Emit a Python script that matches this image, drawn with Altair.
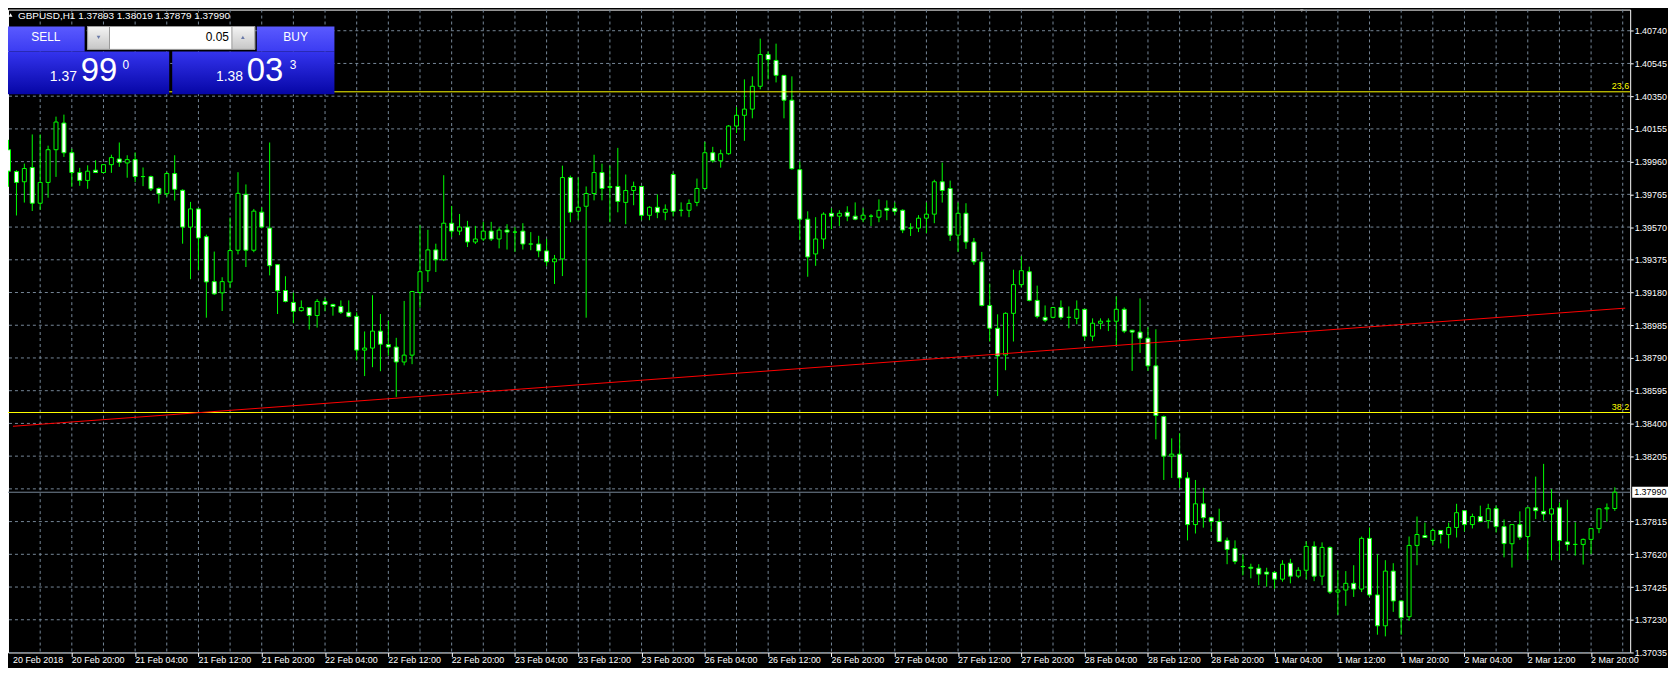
import altair as alt
import pandas as pd

# ---------------- data (GBPUSD H1) ----------------
opens = [
    1.40031, 1.39901, 1.39840, 1.39925, 1.39712, 1.39836, 1.40031, 1.40190, 1.40013, 1.39895,
    1.39848, 1.39909, 1.39895, 1.39942, 1.39976, 1.39952, 1.39972, 1.39871, 1.39871, 1.39800,
    1.39769, 1.39889, 1.39789, 1.39570, 1.39678, 1.39513, 1.39245, 1.39178, 1.39243, 1.39432,
    1.39765, 1.39432, 1.39659, 1.39564, 1.39346, 1.39192, 1.39121, 1.39072, 1.39090, 1.39043,
    1.39127, 1.39109, 1.39097, 1.39062, 1.39038, 1.38837, 1.38849, 1.38950, 1.38870, 1.38855,
    1.38766, 1.38807, 1.39180, 1.39310, 1.39434, 1.39375, 1.39593, 1.39546, 1.39570, 1.39481,
    1.39499, 1.39546, 1.39499, 1.39552, 1.39540, 1.39546, 1.39469, 1.39469, 1.39428, 1.39363,
    1.39380, 1.39865, 1.39664, 1.39694, 1.39770, 1.39895, 1.39812, 1.39812, 1.39717, 1.39788,
    1.39812, 1.39640, 1.39688, 1.39658, 1.39883, 1.39670, 1.39670, 1.39717, 1.39800, 1.40013,
    1.39965, 1.40007, 1.40172, 1.40236, 1.40273, 1.40409, 1.40598, 1.40563, 1.40474, 1.40326,
    1.39912, 1.39617, 1.39410, 1.39499, 1.39652, 1.39635, 1.39658, 1.39635, 1.39617, 1.39635,
    1.39629, 1.39682, 1.39682, 1.39670, 1.39564, 1.39564, 1.39623, 1.39647, 1.39840, 1.39800,
    1.39522, 1.39652, 1.39481, 1.39363, 1.39103, 1.38967, 1.38808, 1.39056, 1.39227, 1.39304,
    1.39133, 1.39032, 1.39032, 1.39091, 1.39032, 1.39026, 1.39080, 1.38920, 1.38997, 1.39009,
    1.39009, 1.39080, 1.38955, 1.38944, 1.38908, 1.38743, 1.38441, 1.38205, 1.38217, 1.38075,
    1.37797, 1.37921, 1.37838, 1.37815, 1.37703, 1.37655, 1.37547, 1.37543, 1.37537, 1.37514,
    1.37512, 1.37472, 1.37567, 1.37490, 1.37525, 1.37667, 1.37490, 1.37661, 1.37395, 1.37407,
    1.37447, 1.37413, 1.37715, 1.37378, 1.37194, 1.37520, 1.37342, 1.37248, 1.37673, 1.37732,
    1.37703, 1.37762, 1.37738, 1.37780, 1.37880, 1.37797, 1.37845, 1.37821, 1.37892, 1.37785,
    1.37683, 1.37797, 1.37726, 1.37897, 1.37876, 1.37860, 1.37897, 1.37694, 1.37679, 1.37679,
    1.37709, 1.37773, 1.37891, 1.37893,
]
highs = [
    1.40090, 1.39909, 1.39948, 1.40122, 1.40122, 1.40055, 1.40228, 1.40240, 1.40037, 1.39923,
    1.39938, 1.39968, 1.39944, 1.40001, 1.40074, 1.39998, 1.40015, 1.39925, 1.39877, 1.39806,
    1.39899, 1.39998, 1.39795, 1.39720, 1.39680, 1.39525, 1.39424, 1.39271, 1.39627, 1.39897,
    1.39824, 1.39678, 1.39688, 1.40074, 1.39346, 1.39277, 1.39180, 1.39133, 1.39090, 1.39141,
    1.39149, 1.39113, 1.39133, 1.39133, 1.39062, 1.38948, 1.39164, 1.39052, 1.39011, 1.38910,
    1.39130, 1.39190, 1.39581, 1.39554, 1.39471, 1.39879, 1.39696, 1.39648, 1.39607, 1.39577,
    1.39601, 1.39601, 1.39568, 1.39587, 1.39570, 1.39593, 1.39540, 1.39518, 1.39499, 1.39404,
    1.39936, 1.39877, 1.39865, 1.39812, 1.40001, 1.39948, 1.39936, 1.40042, 1.39883, 1.39841,
    1.39815, 1.39694, 1.39765, 1.39705, 1.39895, 1.39717, 1.39735, 1.39859, 1.40078, 1.40048,
    1.40031, 1.40178, 1.40285, 1.40450, 1.40468, 1.40693, 1.40616, 1.40663, 1.40474, 1.40468,
    1.39960, 1.39664, 1.39629, 1.39658, 1.39682, 1.39670, 1.39694, 1.39717, 1.39682, 1.39647,
    1.39735, 1.39729, 1.39717, 1.39676, 1.39593, 1.39641, 1.39717, 1.39852, 1.39954, 1.39847,
    1.39717, 1.39712, 1.39505, 1.39422, 1.39233, 1.39050, 1.39062, 1.39316, 1.39397, 1.39334,
    1.39221, 1.39103, 1.39091, 1.39133, 1.39097, 1.39133, 1.39082, 1.39026, 1.39026, 1.39026,
    1.39156, 1.39091, 1.38958, 1.39145, 1.38973, 1.38961, 1.38447, 1.38311, 1.38341, 1.38110,
    1.38063, 1.38016, 1.37844, 1.37892, 1.37720, 1.37703, 1.37620, 1.37564, 1.37561, 1.37540,
    1.37520, 1.37585, 1.37593, 1.37543, 1.37697, 1.37697, 1.37691, 1.37667, 1.37525, 1.37520,
    1.37555, 1.37726, 1.37780, 1.37620, 1.37585, 1.37567, 1.37345, 1.37726, 1.37845, 1.37809,
    1.37774, 1.37765, 1.37809, 1.37921, 1.37882, 1.37862, 1.37910, 1.37921, 1.37910, 1.37828,
    1.37797, 1.37876, 1.37897, 1.38083, 1.38159, 1.38008, 1.37929, 1.37945, 1.37811, 1.37714,
    1.37773, 1.37891, 1.37923, 1.38019,
]
lows = [
    1.39810, 1.39639, 1.39716, 1.39666, 1.39672, 1.39745, 1.39869, 1.39988, 1.39810, 1.39816,
    1.39798, 1.39893, 1.39893, 1.39893, 1.39929, 1.39864, 1.39838, 1.39814, 1.39785, 1.39710,
    1.39751, 1.39728, 1.39471, 1.39259, 1.39312, 1.39030, 1.39166, 1.39070, 1.39206, 1.39407,
    1.39332, 1.39420, 1.39562, 1.39282, 1.39052, 1.39121, 1.38997, 1.39066, 1.38959, 1.38971,
    1.39068, 1.39042, 1.39052, 1.39032, 1.38776, 1.38682, 1.38735, 1.38711, 1.38804, 1.38558,
    1.38746, 1.38753, 1.39089, 1.39243, 1.39302, 1.39367, 1.39510, 1.39522, 1.39451, 1.39469,
    1.39487, 1.39487, 1.39443, 1.39436, 1.39422, 1.39436, 1.39432, 1.39390, 1.39337, 1.39231,
    1.39278, 1.39599, 1.39611, 1.39030, 1.39729, 1.39729, 1.39599, 1.39658, 1.39587, 1.39700,
    1.39611, 1.39611, 1.39623, 1.39611, 1.39633, 1.39633, 1.39629, 1.39694, 1.39794, 1.39954,
    1.39924, 1.40001, 1.40131, 1.40084, 1.40218, 1.40391, 1.40450, 1.40432, 1.40218, 1.39912,
    1.39493, 1.39274, 1.39339, 1.39440, 1.39558, 1.39576, 1.39605, 1.39611, 1.39599, 1.39576,
    1.39599, 1.39611, 1.39641, 1.39534, 1.39517, 1.39540, 1.39534, 1.39593, 1.39716, 1.39487,
    1.39422, 1.39440, 1.39345, 1.39097, 1.38888, 1.38563, 1.38717, 1.38888, 1.39210, 1.39127,
    1.39026, 1.39003, 1.39026, 1.39018, 1.38967, 1.38991, 1.38894, 1.38890, 1.38961, 1.38950,
    1.38867, 1.38938, 1.38713, 1.38820, 1.38713, 1.38305, 1.38063, 1.38075, 1.38016, 1.37703,
    1.37744, 1.37779, 1.37756, 1.37697, 1.37561, 1.37561, 1.37495, 1.37477, 1.37436, 1.37427,
    1.37415, 1.37457, 1.37447, 1.37478, 1.37471, 1.37460, 1.37436, 1.37384, 1.37259, 1.37313,
    1.37366, 1.37395, 1.37366, 1.37141, 1.37131, 1.37277, 1.37141, 1.37224, 1.37555, 1.37718,
    1.37673, 1.37685, 1.37655, 1.37720, 1.37756, 1.37774, 1.37812, 1.37774, 1.37750, 1.37602,
    1.37541, 1.37706, 1.37588, 1.37830, 1.37821, 1.37584, 1.37588, 1.37641, 1.37612, 1.37559,
    1.37620, 1.37746, 1.37815, 1.37879,
]
closes = [
    1.39903, 1.39836, 1.39919, 1.39712, 1.39836, 1.40031, 1.40196, 1.40013, 1.39895, 1.39848,
    1.39903, 1.39895, 1.39942, 1.39984, 1.39956, 1.39972, 1.39871, 1.39871, 1.39798, 1.39769,
    1.39889, 1.39795, 1.39570, 1.39678, 1.39505, 1.39243, 1.39172, 1.39245, 1.39430, 1.39771,
    1.39432, 1.39665, 1.39570, 1.39340, 1.39190, 1.39127, 1.39068, 1.39090, 1.39043, 1.39127,
    1.39109, 1.39097, 1.39062, 1.39038, 1.38837, 1.38849, 1.38950, 1.38872, 1.38855, 1.38766,
    1.38807, 1.39186, 1.39304, 1.39434, 1.39375, 1.39593, 1.39546, 1.39570, 1.39481, 1.39499,
    1.39546, 1.39499, 1.39552, 1.39540, 1.39540, 1.39469, 1.39469, 1.39428, 1.39363, 1.39380,
    1.39865, 1.39658, 1.39688, 1.39770, 1.39895, 1.39800, 1.39806, 1.39723, 1.39788, 1.39812,
    1.39640, 1.39688, 1.39658, 1.39676, 1.39664, 1.39670, 1.39711, 1.39800, 1.40013, 1.39965,
    1.40007, 1.40172, 1.40236, 1.40273, 1.40409, 1.40598, 1.40568, 1.40474, 1.40326, 1.39918,
    1.39617, 1.39392, 1.39499, 1.39647, 1.39635, 1.39652, 1.39635, 1.39617, 1.39641, 1.39635,
    1.39670, 1.39670, 1.39664, 1.39552, 1.39564, 1.39623, 1.39647, 1.39840, 1.39788, 1.39522,
    1.39652, 1.39481, 1.39363, 1.39103, 1.38967, 1.38802, 1.39056, 1.39227, 1.39310, 1.39133,
    1.39038, 1.39015, 1.39091, 1.39032, 1.39032, 1.39080, 1.38920, 1.38997, 1.39009, 1.39009,
    1.39080, 1.38950, 1.38944, 1.38908, 1.38743, 1.38447, 1.38205, 1.38217, 1.38075, 1.37797,
    1.37921, 1.37838, 1.37815, 1.37697, 1.37649, 1.37578, 1.37547, 1.37537, 1.37502, 1.37502,
    1.37472, 1.37561, 1.37490, 1.37525, 1.37667, 1.37490, 1.37661, 1.37395, 1.37407, 1.37447,
    1.37413, 1.37715, 1.37378, 1.37194, 1.37520, 1.37342, 1.37242, 1.37673, 1.37738, 1.37720,
    1.37762, 1.37738, 1.37780, 1.37868, 1.37797, 1.37845, 1.37815, 1.37892, 1.37785, 1.37684,
    1.37797, 1.37722, 1.37897, 1.37880, 1.37860, 1.37891, 1.37702, 1.37679, 1.37679, 1.37709,
    1.37773, 1.37891, 1.37897, 1.37990,
]

tick_labels = [
    "20 Feb 2018", "20 Feb 20:00", "21 Feb 04:00", "21 Feb 12:00", "21 Feb 20:00",
    "22 Feb 04:00", "22 Feb 12:00", "22 Feb 20:00", "23 Feb 04:00", "23 Feb 12:00",
    "23 Feb 20:00", "26 Feb 04:00", "26 Feb 12:00", "26 Feb 20:00", "27 Feb 04:00",
    "27 Feb 12:00", "27 Feb 20:00", "28 Feb 04:00", "28 Feb 12:00", "28 Feb 20:00",
    "1 Mar 04:00", "1 Mar 12:00", "1 Mar 20:00", "2 Mar 04:00", "2 Mar 12:00", "2 Mar 20:00",
]
price_levels = [
    1.40740, 1.40545, 1.40350, 1.40155, 1.39960, 1.39765, 1.39570, 1.39375, 1.39180, 1.38985,
    1.38790, 1.38595, 1.38400, 1.38205, 1.38010, 1.37815, 1.37620, 1.37425, 1.37230, 1.37035,
]
hidden_label = 1.38010
fib_levels = [1.40376, 1.38465]
fib_names = ["23.6", "38.2"]
trend_idx = [0.5625, 204.3125]
trend_price = [1.38383, 1.39087]
bid = 1.37990
bid_text = "1.37990"
title_text = "GBPUSD,H1  1.37893 1.38019 1.37879 1.37990"

# ---------------- layout ----------------
W, H = 1630, 646
X0, X1 = 0.5625, 204.3125
Y0, Y1 = 1.37035, 1.40866
FONT = "Liberation Sans"
FS = 9
GREEN = "#00FF00"
GRID = "#778899"

xs = alt.Scale(domain=[X0, X1], nice=False, zero=False)
ys = alt.Scale(domain=[Y0, Y1], nice=False, zero=False)

axis_vals = [p for p in price_levels if p != hidden_label]
YAX = alt.Axis(orient="right", values=axis_vals, format=".5f", title=None, grid=False,
               domain=False, ticks=True, tickColor="white", tickSize=3,
               labelColor="white", labelFont=FONT, labelFontSize=FS, labelPadding=1,
               labelOverlap=False, labelFlush=False)
XAX = alt.Axis(values=[8 * k for k in range(1, 26)], labels=False, ticks=True, tickSize=4,
               tickColor="white", domain=False, grid=False, title=None)

n = len(opens)
df = pd.DataFrame({"i": list(range(n)), "open": opens, "high": highs,
                   "low": lows, "close": closes})
df["top"] = df[["open", "close"]].max(axis=1)
df["bot"] = df[["open", "close"]].min(axis=1)
df["fillc"] = ["#FFFFFF" if c < o else "#000000" for o, c in zip(opens, closes)]

vgrid = pd.DataFrame({"g": list(range(4, 205, 4))})
hgrid = pd.DataFrame({"p": price_levels})
labels_df = pd.DataFrame({"i": [8 * k for k in range(len(tick_labels))], "label": tick_labels})
fib_df = pd.DataFrame({"p": fib_levels, "name": fib_names})
trend_df = pd.DataFrame({"t": trend_idx, "p": trend_price})
bid_df = pd.DataFrame({"p": [bid], "txt": [bid_text]})
dummy = alt.Data(values=[{"a": 1}])


def X(field):
    return alt.X(field, scale=xs, axis=XAX)


def Y(field):
    return alt.Y(field, scale=ys, axis=YAX)


vgrid_layer = alt.Chart(vgrid).mark_rule(color=GRID, strokeDash=[3, 3], strokeWidth=1).encode(
    x=X("g:Q"))

hgrid_layer = alt.Chart(hgrid).mark_rule(color=GRID, strokeDash=[3, 3], strokeWidth=1).encode(
    y=Y("p:Q"))

bid_line = alt.Chart(bid_df).mark_rule(color=GRID, strokeWidth=1).encode(y=Y("p:Q"))

wicks = alt.Chart(df).mark_rule(color=GREEN, strokeWidth=1, clip=True).encode(
    x=X("i:Q"), y=Y("low:Q"), y2="high:Q")

bodies = alt.Chart(df).mark_bar(size=4, stroke=GREEN, strokeWidth=1, clip=True).encode(
    x=X("i:Q"), y=Y("top:Q"), y2="bot:Q", fill=alt.Fill("fillc:N", scale=None))

fib_lines = alt.Chart(fib_df).mark_rule(color="#FFFF00", strokeWidth=1).encode(y=Y("p:Q"))
fib_text = alt.Chart(fib_df).mark_text(
    align="right", baseline="bottom", dy=-1, color="#FFFF00", font=FONT, fontSize=FS).encode(
    x=alt.value(W - 1), y=Y("p:Q"), text="name:N")

trend = alt.Chart(trend_df).mark_line(color="#FF0000", strokeWidth=1, clip=True).encode(
    x=X("t:Q"), y=Y("p:Q"))

bid_box = alt.Chart(bid_df).transform_calculate(
    p1="datum.p + 0.000325", p2="datum.p - 0.000325").mark_rect(fill="white").encode(
    x=alt.value(W + 2), x2=alt.value(W + 40), y=Y("p1:Q"), y2="p2:Q")
bid_lab = alt.Chart(bid_df).mark_text(
    align="left", baseline="middle", color="black", font=FONT, fontSize=FS).encode(
    x=alt.value(W + 4), y=Y("p:Q"), text="txt:N")

x_labels = alt.Chart(labels_df).transform_calculate(
    xl=f"max(datum.i, {X0})").mark_text(
    align="left", baseline="alphabetic", color="white", font=FONT, fontSize=FS).encode(
    x=X("xl:Q"), y=alt.value(H + 11), text="label:N")


def box(x1, x2, y1, y2, fill, stroke=None):
    kw = {"fill": fill}
    if stroke:
        kw.update(stroke=stroke, strokeWidth=1)
    return alt.Chart(dummy).mark_rect(**kw).encode(
        x=alt.value(x1), x2=alt.value(x2), y=alt.value(y1), y2=alt.value(y2))


def txt(x, y, s, size, color="white", align="left", baseline="alphabetic"):
    return alt.Chart(dummy).mark_text(
        text=s, font=FONT, fontSize=size, color=color, align=align, baseline=baseline).encode(
        x=alt.value(x), y=alt.value(y))


def tri(x, y, shape, color, size):
    return alt.Chart(dummy).mark_point(shape=shape, filled=True, color=color, size=size,
                                       opacity=1).encode(x=alt.value(x), y=alt.value(y))


def grad(c1, c2):
    return {"gradient": "linear", "x1": 0, "x2": 0, "y1": 0, "y2": 1,
            "stops": [{"offset": 0, "color": c1}, {"offset": 1, "color": c2}]}


btn = grad("#5a5aff", "#3c3cf2")
pbox = grad("#3434ee", "#0606a6")
gbtn = grad("#f4f4f4", "#c6c6c6")

panel = [
    box(-2, 77, 17, 42, btn),
    box(80, 248, 17, 40, "#ffffff", "#9a9a9a"),
    box(80, 102, 17, 40, gbtn, "#9a9a9a"),
    box(225, 248, 17, 40, gbtn, "#9a9a9a"),
    tri(91, 28, "triangle-down", "#6a7aa8", 14),
    tri(236, 28, "triangle-up", "#6a7aa8", 14),
    txt(222, 32, "0.05", 12, "black", "right"),
    box(250, 328, 17, 42, btn),
    txt(38, 32, "SELL", 12, "white", "center"),
    txt(289, 32, "BUY", 12, "white", "center"),
    box(-2, 162, 42, 85, pbox),
    box(165, 328, 42, 85, pbox),
    txt(42, 72, "1.37", 14),
    txt(73, 72, "99", 33),
    txt(115, 60, "0", 12),
    txt(209, 72, "1.38", 14),
    txt(240, 72, "03", 33),
    txt(283, 60, "3", 12),
    tri(2.5, 5.5, "triangle-up", "white", 16),
    txt(10, 9.5, title_text, 10),
    tri(1300, 1, "triangle-down", "#9a9a9a", 14),
]

chart = alt.layer(
    vgrid_layer, hgrid_layer, bid_line, wicks, bodies, fib_lines, trend,
    fib_text, bid_box, bid_lab, x_labels, *panel
).properties(
    width=W, height=H, background="black",
    padding={"left": 0, "top": 0, "right": 38, "bottom": 14},
    autosize=alt.AutoSizeParams(type="none"),
).configure_view(stroke="white", strokeWidth=1)

chart.save("out.html", embed_options={"renderer": "svg", "actions": False})
